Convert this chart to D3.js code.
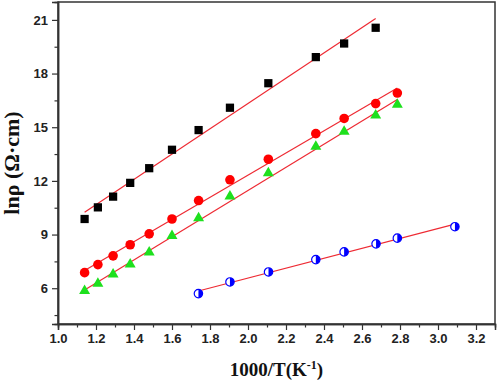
<!DOCTYPE html>
<html>
<head>
<meta charset="utf-8">
<script src="https://cdn.jsdelivr.net/npm/d3@7"></script>
<style>
  html, body { margin: 0; padding: 0; background: #fff; }
  svg { display: block; }
  .tick-label { font-family: "Liberation Sans", Arial, sans-serif; font-weight: bold; font-size: 13px; fill: #222; }
  .axis-title { font-family: "Liberation Serif", "Times New Roman", serif; font-weight: bold; fill: #111; }
</style>
</head>
<body>
<div id="chart"></div>
<script>
// 1000/T values (K^-1)
const xBlack = [1.14, 1.21, 1.29, 1.38, 1.48, 1.60, 1.74, 1.905, 2.107, 2.357, 2.506, 2.672];
const yBlack = [9.87, 10.52, 11.12, 11.89, 12.71, 13.74, 14.84, 16.09, 17.46, 18.92, 19.68, 20.56];

const xRed = [1.14, 1.21, 1.29, 1.38, 1.48, 1.60, 1.74, 1.905, 2.107, 2.357, 2.506, 2.672, 2.786];
const yRed = [6.87, 7.32, 7.81, 8.43, 9.04, 9.87, 10.90, 12.06, 13.21, 14.64, 15.49, 16.32, 16.91];

const xGreen = [1.14, 1.21, 1.29, 1.38, 1.48, 1.60, 1.74, 1.905, 2.107, 2.357, 2.506, 2.672, 2.786];
const yGreen = [5.85, 6.26, 6.78, 7.34, 8.00, 8.93, 9.92, 11.14, 12.43, 13.92, 14.76, 15.66, 16.26];

const xBlue = [1.739, 1.905, 2.108, 2.357, 2.506, 2.674, 2.786, 3.089];
const yBlue = [5.70, 6.35, 6.91, 7.60, 8.03, 8.48, 8.80, 9.44];

const xTicks = [1.0, 1.2, 1.4, 1.6, 1.8, 2.0, 2.2, 2.4, 2.6, 2.8, 3.0, 3.2];
const yTicks = [6, 9, 12, 15, 18, 21];

const width = 498, height = 383;
const margin = { top: 2, right: 3, bottom: 59, left: 58 };

const svg = d3.select('#chart').append('svg')
  .attr('width', width)
  .attr('height', height);

const x = d3.scaleLinear().domain([1.0, 3.3]).range([margin.left, width - margin.right]);
const y = d3.scaleLinear().domain([4, 22]).range([height - margin.bottom, margin.top]);

// frame
svg.append('rect')
  .attr('x', x(1.0)).attr('y', y(22))
  .attr('width', x(3.3) - x(1.0)).attr('height', y(4) - y(22))
  .attr('fill', 'none').attr('stroke', '#333').attr('stroke-width', 1.5);

// minor tick positions
const xMinor = d3.range(1.1, 3.3, 0.2);
const yMinor = d3.range(4.5, 22, 3);

const xAxis = svg.append('g').attr('transform', `translate(0,${y(4)})`);
xAxis.call(d3.axisBottom(x).tickValues(xTicks).tickFormat(d3.format('.1f')).tickSize(6).tickPadding(4));
xAxis.append('g').call(d3.axisBottom(x).tickValues(xMinor).tickFormat('').tickSize(3.5));

const yAxis = svg.append('g').attr('transform', `translate(${x(1.0)},0)`);
yAxis.call(d3.axisLeft(y).tickValues(yTicks).tickFormat(d3.format('d')).tickSize(6).tickPadding(4));
yAxis.append('g').call(d3.axisLeft(y).tickValues(yMinor).tickFormat('').tickSize(3.5));

svg.selectAll('.domain').attr('stroke', '#333').attr('stroke-width', 1.5);
svg.selectAll('.tick line').attr('stroke', '#333').attr('stroke-width', 1.2);
svg.selectAll('.tick text').attr('class', 'tick-label').attr('font-family', null).attr('font-size', null);

// linear fits
function fit(xs, ys) {
  const mx = d3.mean(xs), my = d3.mean(ys);
  const b = d3.sum(xs, (v, i) => (v - mx) * (ys[i] - my)) / d3.sum(xs, v => (v - mx) ** 2);
  const a = my - b * mx;
  const lo = d3.min(xs), hi = d3.max(xs);
  return [[lo, a + b * lo], [hi, a + b * hi]];
}

const series = [
  { xs: xBlack, ys: yBlack, type: 'square', color: '#000' },
  { xs: xRed, ys: yRed, type: 'circle', color: '#ff0000' },
  { xs: xGreen, ys: yGreen, type: 'triangle', color: '#1ee01e' },
  { xs: xBlue, ys: yBlue, type: 'half', color: '#0000ff' }
];

const line = d3.line().x(d => x(d[0])).y(d => y(d[1]));

series.forEach(s => {
  svg.append('path')
    .attr('d', line(fit(s.xs, s.ys)))
    .attr('fill', 'none')
    .attr('stroke', '#ee2a33')
    .attr('stroke-width', 1.2);
});

series.forEach(s => {
  const pts = s.xs.map((v, i) => [v, s.ys[i]]);
  const g = svg.append('g');
  const node = g.selectAll('g').data(pts).join('g')
    .attr('transform', d => `translate(${x(d[0])},${y(d[1])})`);
  if (s.type === 'square') {
    node.append('path').attr('d', d3.symbol(d3.symbolSquare, 68)()).attr('fill', s.color);
  } else if (s.type === 'circle') {
    node.append('circle').attr('r', 4.8).attr('fill', s.color);
  } else if (s.type === 'triangle') {
    node.append('path').attr('d', d3.symbol(d3.symbolTriangle, 52)()).attr('fill', s.color);
  } else {
    node.append('circle').attr('r', 4.2).attr('fill', '#fff').attr('stroke', s.color).attr('stroke-width', 1.2);
    node.append('path')
      .attr('d', d3.arc().innerRadius(0).outerRadius(4.2).startAngle(0).endAngle(Math.PI)())
      .attr('fill', s.color);
  }
});

// axis titles
const xt = svg.append('text')
  .attr('class', 'axis-title')
  .attr('x', (x(1.0) + x(3.3)) / 2)
  .attr('y', 376)
  .attr('text-anchor', 'middle')
  .attr('font-size', 19);
xt.append('tspan').text('1000/T(K');
xt.append('tspan').attr('font-size', 12).attr('dy', -7).text('-1');
xt.append('tspan').attr('dy', 7).text(')');

svg.append('text')
  .attr('class', 'axis-title')
  .attr('transform', `translate(19,${(y(4) + y(22)) / 2}) rotate(-90)`)
  .attr('text-anchor', 'middle')
  .attr('font-size', 22)
  .text('lnρ (Ω·cm)');
</script>
</body>
</html>
